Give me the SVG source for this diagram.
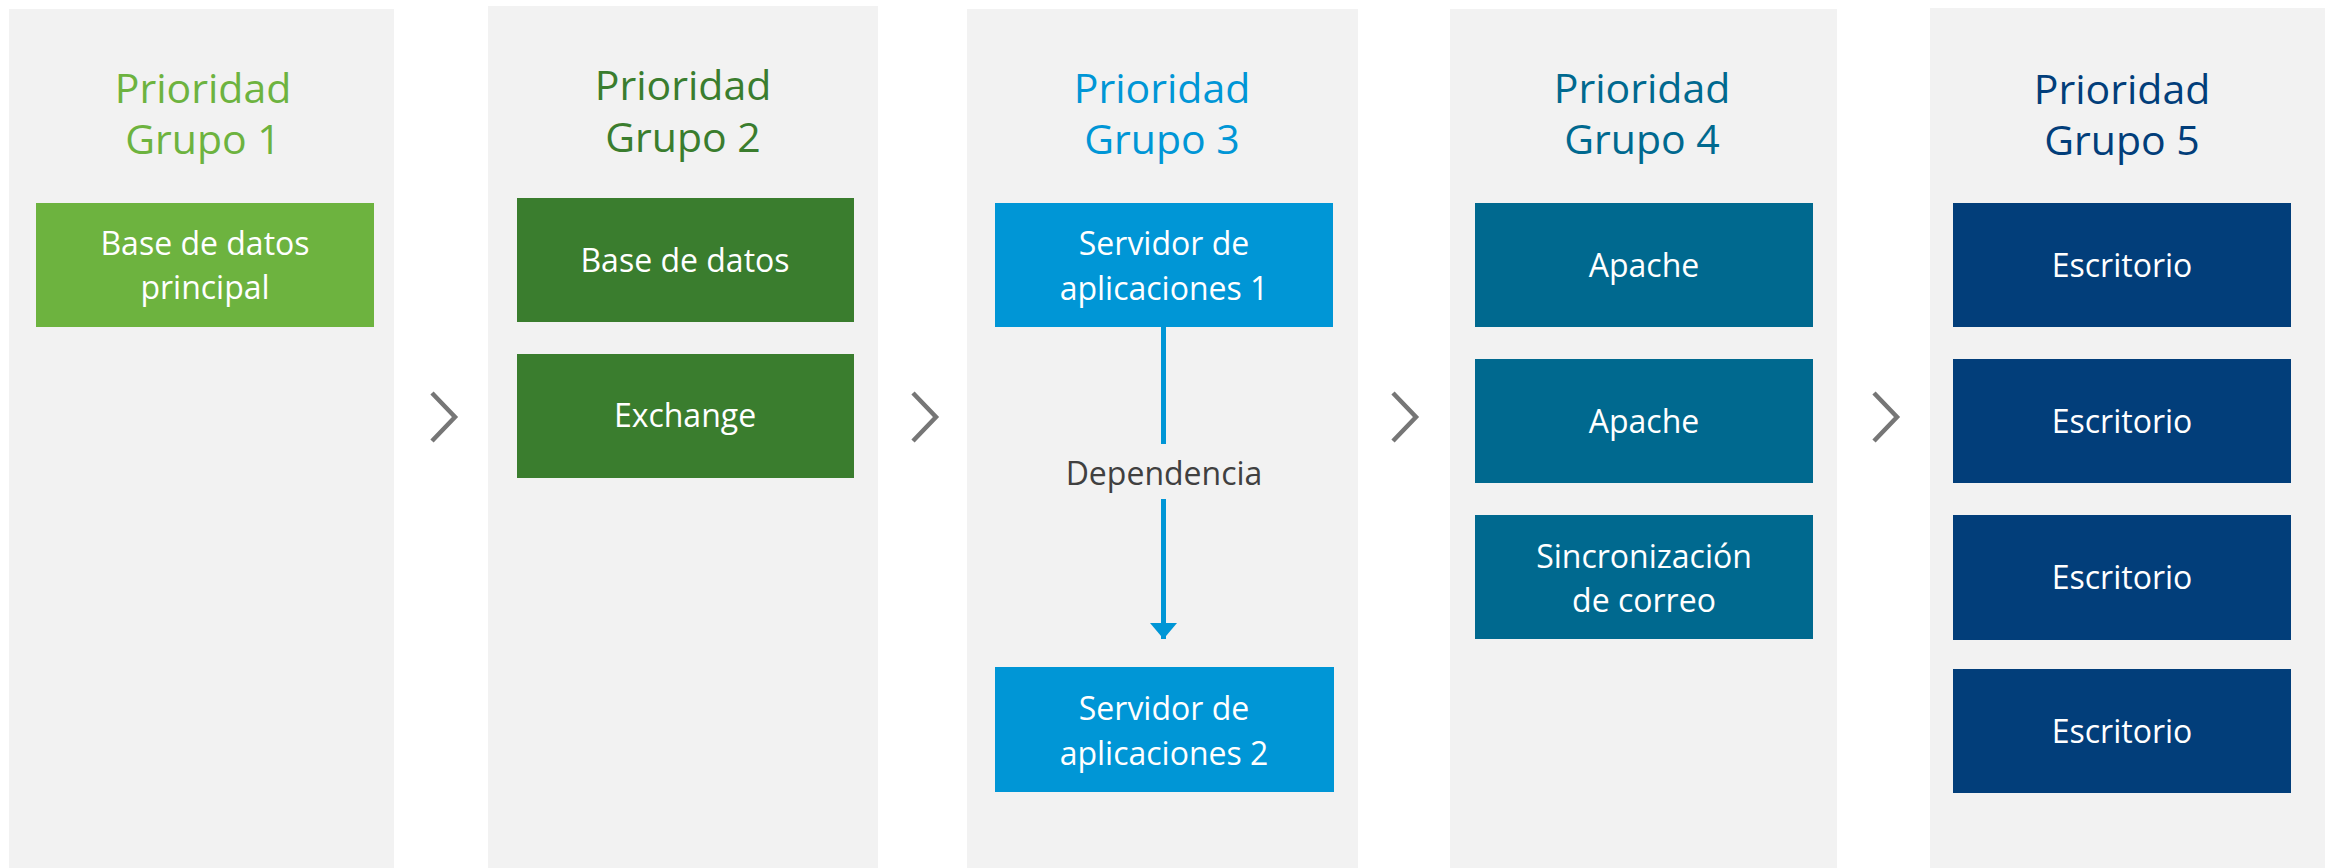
<svg xmlns="http://www.w3.org/2000/svg" width="2325" height="868" viewBox="0 0 2325 868">
<style>
.col{fill:#F2F2F2}
text{font-family:"Open Sans","Noto Sans","Liberation Sans",sans-serif;text-anchor:middle}
.t{font-size:41px}
.b{font-size:32px;fill:#FFFFFF}
.chev{fill:none;stroke:#767676;stroke-width:4.5}
.g1{fill:#6DB33F}.g2{fill:#3A7D2E}.g3{fill:#0096D6}.g4{fill:#00698F}.g5{fill:#023E7A}
</style>
<defs>
<marker id="ah" markerWidth="16" markerHeight="27" refX="16" refY="13.5" orient="auto" markerUnits="userSpaceOnUse" viewBox="0 0 16 27">
<path d="M0,0 L16,13.5 L0,27 Z" fill="#0096D6"/>
</marker>
</defs>
<rect width="2325" height="868" fill="#FFFFFF"/>
<g id="columns">
<rect class="col" x="9" y="9" width="385" height="859"/>
<rect class="col" x="488" y="6" width="390" height="862"/>
<rect class="col" x="967" y="9" width="391" height="859"/>
<rect class="col" x="1450" y="9" width="387" height="859"/>
<rect class="col" x="1930" y="8" width="395" height="860"/>
</g>
<g id="titles">
<text class="t g1" x="203" y="103">Prioridad</text>
<text class="t g1" x="203" y="154">Grupo 1</text>
<text class="t g2" x="683" y="100">Prioridad</text>
<text class="t g2" x="683" y="152">Grupo 2</text>
<text class="t g3" x="1162" y="103">Prioridad</text>
<text class="t g3" x="1162" y="154">Grupo 3</text>
<text class="t g4" x="1642" y="103">Prioridad</text>
<text class="t g4" x="1642" y="154">Grupo 4</text>
<text class="t g5" x="2122" y="104">Prioridad</text>
<text class="t g5" x="2122" y="155">Grupo 5</text>
</g>
<g id="chevrons">
<path class="chev" d="M432,393 L455,417 L432,441"/>
<path class="chev" d="M913,393 L936,417 L913,441"/>
<path class="chev" d="M1393,393 L1416,417 L1393,441"/>
<path class="chev" d="M1874,393 L1897,417 L1874,441"/>
</g>
<g id="node-g1-db">
<rect class="g1" x="36" y="203" width="338" height="124"/>
<text class="b" x="205" y="255">Base de datos</text>
<text class="b" x="205" y="299">principal</text>
</g>
<g id="node-g2-db">
<rect class="g2" x="517" y="198" width="337" height="124"/>
<text class="b" x="685" y="272">Base de datos</text>
</g>
<g id="node-g2-exchange">
<rect class="g2" x="517" y="354" width="337" height="124"/>
<text class="b" x="685" y="427">Exchange</text>
</g>
<g id="node-g3-app1">
<rect class="g3" x="995" y="203" width="338" height="124"/>
<text class="b" x="1164" y="255">Servidor de</text>
<text class="b" x="1164" y="300">aplicaciones 1</text>
</g>
<g id="node-g3-app2">
<rect class="g3" x="995" y="667" width="339" height="125"/>
<text class="b" x="1164" y="720">Servidor de</text>
<text class="b" x="1164" y="765">aplicaciones 2</text>
</g>
<g id="node-g4-apache1">
<rect class="g4" x="1475" y="203" width="338" height="124"/>
<text class="b" x="1644" y="277">Apache</text>
</g>
<g id="node-g4-apache2">
<rect class="g4" x="1475" y="359" width="338" height="124"/>
<text class="b" x="1644" y="433">Apache</text>
</g>
<g id="node-g4-sync">
<rect class="g4" x="1475" y="515" width="338" height="124"/>
<text class="b" x="1644" y="568">Sincronización</text>
<text class="b" x="1644" y="612">de correo</text>
</g>
<g id="node-g5-desk1">
<rect class="g5" x="1953" y="203" width="338" height="124"/>
<text class="b" x="2122" y="277">Escritorio</text>
</g>
<g id="node-g5-desk2">
<rect class="g5" x="1953" y="359" width="338" height="124"/>
<text class="b" x="2122" y="433">Escritorio</text>
</g>
<g id="node-g5-desk3">
<rect class="g5" x="1953" y="515" width="338" height="125"/>
<text class="b" x="2122" y="589">Escritorio</text>
</g>
<g id="node-g5-desk4">
<rect class="g5" x="1953" y="669" width="338" height="124"/>
<text class="b" x="2122" y="743">Escritorio</text>
</g>
<g id="connectors">
<line x1="1163.5" y1="327" x2="1163.5" y2="444" stroke="#0096D6" stroke-width="5"/>
<line x1="1163.5" y1="499" x2="1163.5" y2="639" stroke="#0096D6" stroke-width="5" marker-end="url(#ah)"/>
<text x="1164" y="485" font-size="32px" fill="#404040">Dependencia</text>
</g>
</svg>
